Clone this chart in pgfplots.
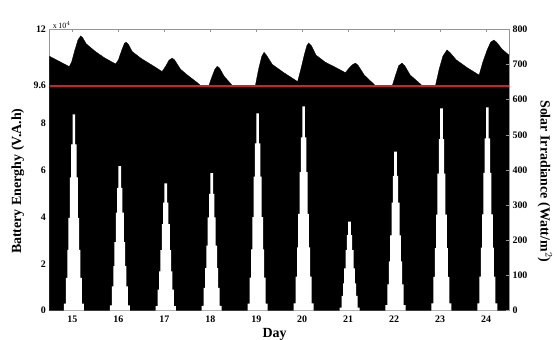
\documentclass[border=0pt]{standalone}
\usepackage{pgfplots}
\pgfplotsset{compat=1.18}
\usepackage{fontspec}
\setmainfont{Liberation Serif}
\definecolor{axgray}{RGB}{150,150,150}
\begin{document}
\begin{tikzpicture}
\begin{axis}[
  scale only axis, width=459.5bp, height=281.4bp,
  xmin=14.5, xmax=24.5, ymin=0, ymax=12,
  xtick={15,16,...,24},
  ytick={0,2,4,6,8,9.6,12},
  yticklabels={0,2,4,6,8,9.6,12},
  ytick pos=left,
  axis line style={axgray, line width=0.8pt},
  tick style={axgray, line width=0.6pt},
  major tick length=3bp,
  /pgf/number format/assume math mode=true,
  tick label style={font=\bfseries\fontsize{10}{10}\selectfont, text=black},
  xticklabel style={yshift=-2bp},
  xlabel={Day},
  ylabel={Battery Energhy (V.A.h)},
  label style={font=\bfseries\fontsize{14}{14}\selectfont},
  xlabel style={at={(axis description cs:0.49,-0.085)}, anchor=center},
  ylabel style={at={(axis description cs:-0.069,0.46)}, anchor=center},
  clip=false,
]
\coordinate (sw) at (rel axis cs:0,0);
\addplot[fill=black, draw=black, line width=0.3pt] coordinates {
(14.5,10.85) (14.93,10.41) (14.98,10.6) (15.05,11.1) (15.12,11.55) (15.18,11.72) (15.22,11.65) (15.3,11.38) (15.5,11.05) (15.7,10.78) (15.94,10.52)
(16.0,10.7) (16.07,11.1) (16.13,11.4) (16.17,11.45) (16.22,11.35) (16.3,11.05) (16.5,10.75) (16.75,10.45) (16.95,10.2)
(17.02,10.4) (17.1,10.68) (17.17,10.77) (17.22,10.7) (17.35,10.3) (17.5,10.05) (17.7,9.75) (17.79,9.6) (17.97,9.6)
(18.03,9.95) (18.1,10.3) (18.15,10.42) (18.2,10.35) (18.3,10.0) (18.48,9.6) (18.98,9.6)
(19.05,10.3) (19.12,10.85) (19.17,11.02) (19.22,10.9) (19.35,10.5) (19.6,10.15) (19.9,9.77)
(19.97,10.3) (20.05,10.95) (20.1,11.3) (20.14,11.42) (20.2,11.3) (20.3,10.9) (20.5,10.6) (20.75,10.35) (20.94,10.15)
(21.02,10.35) (21.1,10.5) (21.16,10.56) (21.22,10.45) (21.35,10.05) (21.59,9.6) (21.96,9.6)
(22.04,10.1) (22.1,10.45) (22.17,10.56) (22.23,10.45) (22.35,10.05) (22.61,9.6) (22.9,9.6)
(22.98,10.3) (23.06,10.85) (23.15,11.12) (23.22,11.0) (23.35,10.7) (23.6,10.35) (23.85,10.05)
(23.93,10.6) (24.02,11.1) (24.1,11.45) (24.17,11.54) (24.23,11.45) (24.35,11.15) (24.5,10.9)
} \closedcycle;
\node[anchor=south west, inner sep=1bp, font=\fontsize{8}{8}\selectfont] at (rel axis cs:0.005,1) {x\,10$^{4}$};
\end{axis}
\begin{axis}[
  scale only axis, width=459.5bp, height=281.4bp,
  xmin=14.5, xmax=24.5, ymin=0, ymax=800,
  axis x line=none,
  axis y line*=right,
  ytick={0,100,...,800},
  axis line style={axgray, line width=0.8pt},
  tick style={axgray, line width=0.6pt},
  major tick length=3bp,
  /pgf/number format/assume math mode=true,
  tick label style={font=\bfseries\fontsize{10}{10}\selectfont, text=black},
  ylabel={Solar Irradiance (Watt/m$^{2}$)},
  label style={font=\bfseries\fontsize{14}{14}\selectfont},
  ylabel style={at={(axis description cs:1.078,0.46)}, anchor=center, rotate=180},
]
\addplot[const plot, fill=white, draw=none] coordinates {
(14.5,0)
(14.812,20) (14.855,93) (14.888,173) (14.913,264) (14.943,379) (14.972,473) (15.001,558) (15.059,473) (15.088,379) (15.117,264) (15.147,173) (15.172,93) (15.205,20) (15.248,0)
(15.812,15) (15.855,69) (15.888,127) (15.913,195) (15.943,279) (15.972,349) (16.001,411) (16.059,349) (16.088,279) (16.117,195) (16.147,127) (16.172,69) (16.205,15) (16.248,0)
(16.812,13) (16.855,60) (16.888,112) (16.913,172) (16.943,246) (16.972,307) (17.001,362) (17.059,307) (17.088,246) (17.117,172) (17.147,112) (17.172,60) (17.205,13) (17.248,0)
(17.812,14) (17.855,65) (17.888,121) (17.913,185) (17.943,265) (17.972,332) (18.001,391) (18.059,332) (18.088,265) (18.117,185) (18.147,121) (18.172,65) (18.205,14) (18.248,0)
(18.812,20) (18.855,94) (18.888,174) (18.913,266) (18.943,381) (18.972,476) (19.001,561) (19.059,476) (19.088,381) (19.117,266) (19.147,174) (19.172,94) (19.205,20) (19.248,0)
(19.812,21) (19.855,97) (19.888,180) (19.913,275) (19.943,394) (19.972,493) (20.001,581) (20.059,493) (20.088,394) (20.117,275) (20.147,180) (20.172,97) (20.205,21) (20.248,0)
(20.812,9) (20.855,42) (20.888,78) (20.913,120) (20.943,172) (20.972,215) (21.001,253) (21.059,215) (21.088,172) (21.117,120) (21.147,78) (21.172,42) (21.205,9) (21.248,0)
(21.812,16) (21.855,75) (21.888,140) (21.913,214) (21.943,307) (21.972,383) (22.001,452) (22.059,383) (22.088,307) (22.117,214) (22.147,140) (22.172,75) (22.205,16) (22.248,0)
(22.812,21) (22.855,96) (22.888,178) (22.913,273) (22.943,390) (22.972,488) (23.001,575) (23.059,488) (23.088,390) (23.117,273) (23.147,178) (23.172,96) (23.205,21) (23.248,0)
(23.812,21) (23.855,97) (23.888,179) (23.913,274) (23.943,392) (23.972,490) (24.001,578) (24.059,490) (24.088,392) (24.117,274) (24.147,179) (24.172,97) (24.205,21) (24.248,0)
(24.5,0)
};
\addplot[color={rgb,255:red,205;green,35;blue,35}, line width=2pt] coordinates {(14.5,640) (24.5,640)};
\end{axis}
\pgfresetboundingbox
\path[use as bounding box] (sw) ++(-49.5bp,-29.3bp) rectangle ++(557bp,340bp);
\end{tikzpicture}
\end{document}
